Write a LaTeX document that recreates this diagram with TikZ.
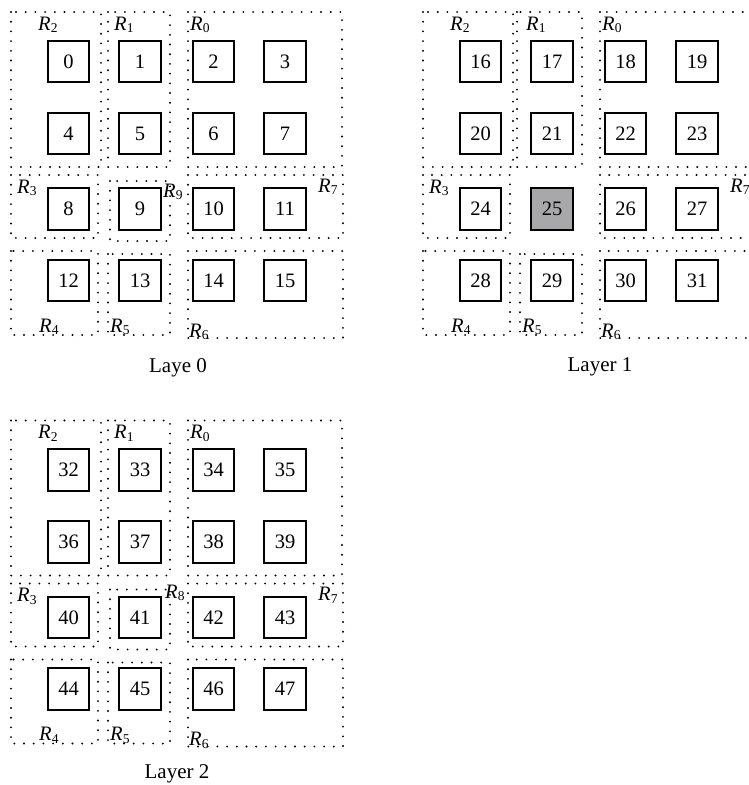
\documentclass[tikz,border=0pt]{standalone}
\usepackage{fontspec}
\setmainfont{Liberation Serif}
\definecolor{cellgray}{RGB}{168,168,170}
\tikzset{
  cell/.style={draw=black, line width=1.7pt, minimum size=41.5pt, inner sep=0pt,
    font=\fontsize{20.5}{21}\selectfont, fill=white},
  thiscell/.style={},
  region/.style={line width=2.1pt, dash pattern=on 0pt off 9.7pt, line cap=round, black},
  rlabel/.style={anchor=base west, inner sep=0pt, font=\fontsize{20.5}{21}\selectfont},
  caption/.style={anchor=base, inner sep=0pt, font=\fontsize{21}{22}\selectfont},
}
\newcommand{\Rsub}[1]{\textit{R}\kern0.2pt\raisebox{-2.8pt}{\fontsize{13.5}{14}\selectfont #1}}
\newcommand{\mylayer}[4]{% #1 layer, #2 dx, #3 dy, #4 R1 left
  \begin{scope}[shift={(#2,#3)}]
    \draw[region] (11,12) rectangle (101,167);
    \draw[region] (#4,12) rectangle (170,167);
    \draw[region] (188,12) rectangle (342,167);
    \draw[region] (11,175) rectangle (98,238);
    \draw[region] (188,175) rectangle (343,238);
    \draw[region] (11,251) rectangle (98,335);
    \draw[region] (108,254) rectangle (170,335);
    \draw[region] (188,251) rectangle (343,338);
    \node[rlabel] (R2-#1) at (38,30) {\Rsub{2}};
    \node[rlabel] (R1-#1) at (114,30) {\Rsub{1}};
    \node[rlabel] (R0-#1) at (190,30) {\Rsub{0}};
    \node[rlabel] (R3-#1) at (17,193) {\Rsub{3}};
    \node[rlabel] (R7-#1) at (318,192) {\Rsub{7}};
    \node[rlabel] (R4-#1) at (39,332) {\Rsub{4}};
    \node[rlabel] (R5-#1) at (110,332) {\Rsub{5}};
    \node[rlabel] (R6-#1) at (189,337) {\Rsub{6}};
    \foreach \r/\yy in {0/61.5,1/133.5,2/209,3/280.5}{
      \foreach \c/\xx in {0/68.5,1/140,2/213.5,3/285}{
        \pgfmathtruncatemacro\n{16*#1+4*\r+\c}
        \ifnum\n=25 \tikzset{thiscell/.style={fill=cellgray}}\else\tikzset{thiscell/.style={}}\fi
        \node[cell,thiscell] (b\n) at (\xx,\yy) {\n};
      }
    }
  \end{scope}}
\begin{document}
\begin{tikzpicture}[x=1pt,y=-1pt]
  \useasboundingbox (0,0) rectangle (749,785);
  \clip (0,0) rectangle (749,785);
  \mylayer{0}{0}{0}{108}
  \mylayer{1}{412}{0}{105}
  \mylayer{2}{0}{408.5}{108}
  % extra regions
  \draw[region] (110,181) rectangle (170,241);
  \node[rlabel] (R9) at (163,197) {\Rsub{9}};
  \draw[region] (110,589.5) rectangle (170,649.5);
  \node[rlabel] (R8) at (165,598) {\Rsub{8}};
  % captions
  \node[caption] (cap0) at (178,372) {Laye 0};
  \node[caption] (cap1) at (600,371) {Layer 1};
  \node[caption] (cap2) at (177,778) {Layer 2};
\end{tikzpicture}
\end{document}
